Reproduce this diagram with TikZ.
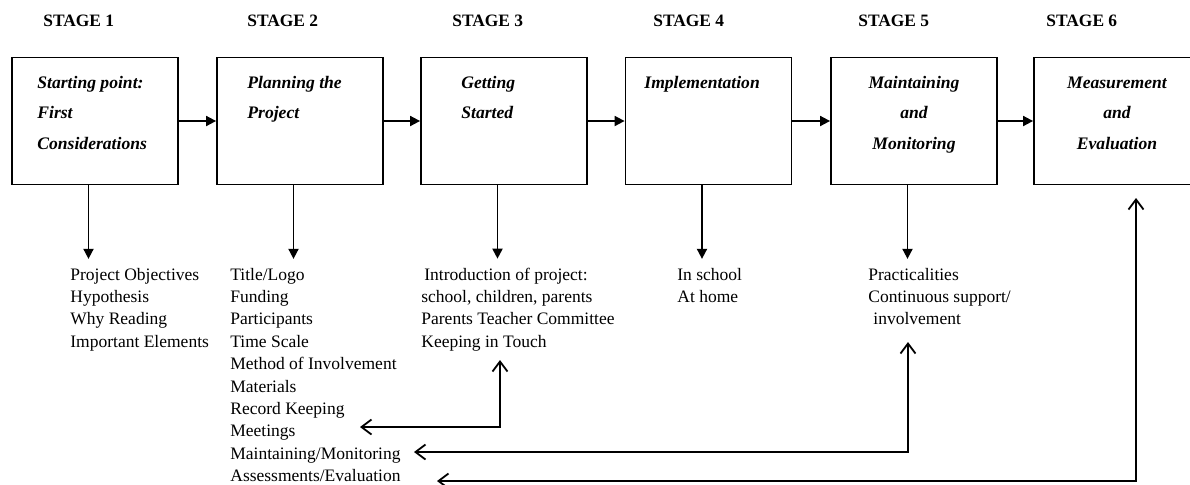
\documentclass[tikz,border=0pt]{standalone}
\usepackage{fontspec}
\setmainfont{Liberation Serif}
\usetikzlibrary{arrows.meta}
\begin{document}
\begin{tikzpicture}[x=0.5pt, y=-0.5pt,
stagebox/.style={draw, line width=0.9pt, minimum width=83pt, minimum height=63.5pt, inner sep=0pt},
stagelabel/.style={font=\fontsize{8.7}{10}\selectfont\bfseries, anchor=base west, inner sep=0pt},
boxtitle/.style={font=\fontsize{8.8}{15.4}\selectfont\bfseries\itshape, inner sep=0pt},
itemlist/.style={font=\fontsize{8.75}{11.2}\selectfont, align=left, anchor=base west, inner sep=0pt, outer ysep=4.5pt},
flow/.style={line width=0.9pt, -{Triangle[length=5pt, width=5pt]}},
back/.style={line width=0.9pt, {Straight Barb[length=5pt, width=7.5pt]}-{Straight Barb[length=5pt, width=7.5pt]}}]
\useasboundingbox (0,0) rectangle (1190,484);
\node[stagelabel] (s1) at (43,26) {STAGE 1};
\node[stagelabel] (s2) at (247,26) {STAGE 2};
\node[stagelabel] (s3) at (452,26) {STAGE 3};
\node[stagelabel] (s4) at (653,26) {STAGE 4};
\node[stagelabel] (s5) at (858,26) {STAGE 5};
\node[stagelabel] (s6) at (1046,26) {STAGE 6};
\node[stagebox] (b1) at (95,121) {};
\node[stagebox] (b2) at (300,121) {};
\node[stagebox] (b3) at (504,121) {};
\node[stagebox] (b4) at (708.5,121) {};
\node[stagebox] (b5) at (914,121) {};
\node[stagebox] (b6) at (1117,121) {};
\node[boxtitle, align=left, anchor=base west] (t1) at (37,149.6) {Starting point:\\First\\Considerations};
\node[boxtitle, align=left, anchor=base west] (t2) at (247,118.8) {Planning the\\Project};
\node[boxtitle, align=left, anchor=base west] (t3) at (461,118.8) {Getting\\Started};
\node[boxtitle, align=left, anchor=base west] (t4) at (644,88) {Implementation};
\node[boxtitle, align=center, anchor=base] (t5) at (914,149.6) {Maintaining\\and\\Monitoring};
\node[boxtitle, align=center, anchor=base] (t6) at (1117,149.6) {Measurement\\and\\Evaluation};
\foreach \a/\b in {b1/b2, b2/b3, b3/b4, b4/b5, b5/b6}
  \draw[flow] (\a.east) -- (\b.west);
\node[itemlist] (l1) at (70,347.2) {Project Objectives\\Hypothesis\\Why Reading\\Important Elements};
\node[itemlist] (l2) at (230,481.6) {Title/Logo\\Funding\\Participants\\Time Scale\\Method of Involvement\\Materials\\Record Keeping\\Meetings\\Maintaining/Monitoring\\Assessments/Evaluation};
\node[itemlist] (l3) at (421,347.2) {\hspace*{1.5pt}Introduction of project:\\school, children, parents\\Parents Teacher Committee\\Keeping in Touch};
\node[itemlist] (l4) at (677,302.4) {In school\\At home};
\node[itemlist] (l5) at (868,324.8) {Practicalities\\Continuous support/\\\hspace*{2.5pt}involvement};
\foreach \a/\b in {b1/l1, b2/l2, b3/l3, b4/l4, b5/l5}
  \draw[flow] ([xshift=-3.25pt]\a.south) -- ([xshift=-3.25pt]\a.south |- \b.north);
\coordinate (f1a) at (360,427);
\coordinate (f1b) at (500,360);
\coordinate (f2a) at (414,452);
\coordinate (f2b) at (908,342);
\coordinate (f3a) at (437,481);
\coordinate (f3b) at (1136,198);
\draw[back] (f1a) -| (f1b);
\draw[back] (f2a) -| (f2b);
\draw[back] (f3a) -| (f3b);
\end{tikzpicture}
\end{document}
